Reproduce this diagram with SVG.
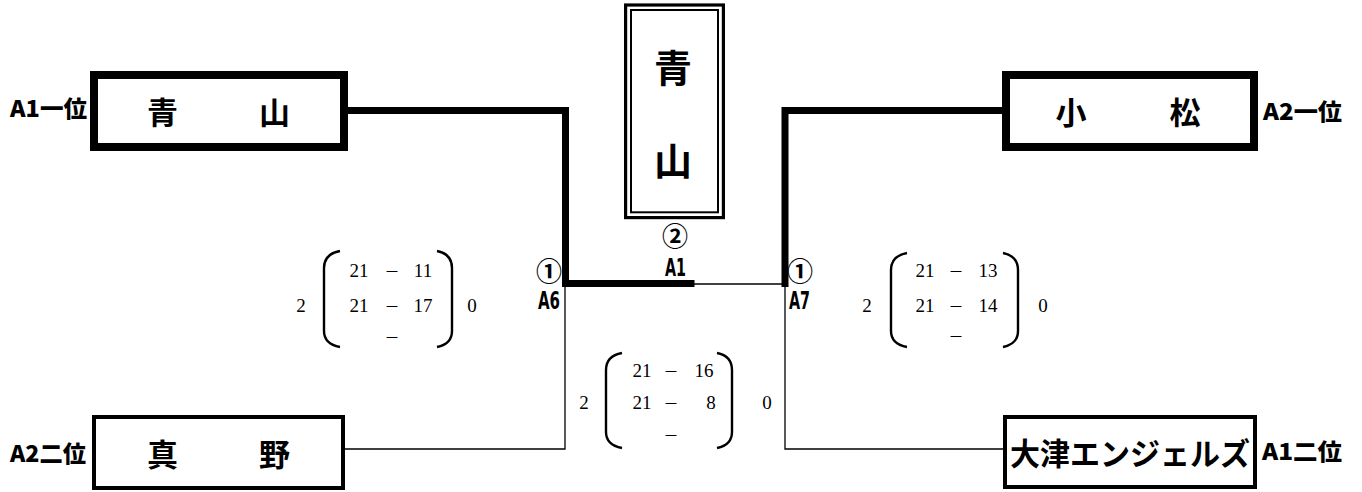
<svg xmlns="http://www.w3.org/2000/svg" width="1362" height="492" viewBox="0 0 1362 492">
<style>
.bg{fill:#fff}
.thick{fill:none;stroke:#000;stroke-width:7;stroke-linecap:square}
.thin{fill:none;stroke:#000;stroke-width:1.3}
.boxT{fill:#fff;stroke:#000;stroke-width:8}
.boxN{fill:#fff;stroke:#000;stroke-width:4}
.name{font-family:"Noto Sans CJK JP","Noto Sans CJK SC",sans-serif;font-weight:bold;font-size:31px;fill:#000;text-anchor:middle;dominant-baseline:central}
.rank{font-family:"Noto Sans CJK JP","Noto Sans CJK SC",sans-serif;font-weight:900;font-size:23px;fill:#000;dominant-baseline:central}
.code{font-family:"Liberation Sans Narrow","DejaVu Sans Condensed",sans-serif;font-weight:bold;font-size:24px;fill:#000;dominant-baseline:central}
.circ{font-family:"Noto Sans CJK JP","DejaVu Sans",sans-serif;font-weight:bold;font-size:26px;fill:#000;text-anchor:middle;dominant-baseline:central}
.sc{font-family:"Liberation Serif","Noto Sans CJK JP",serif;font-size:19px;fill:#000;text-anchor:middle}
.dash{font-family:"Noto Sans CJK JP",sans-serif;font-size:15px;fill:#000;text-anchor:middle}
.par{fill:none;stroke:#000;stroke-width:2.4}
</style>
<rect class="bg" x="0" y="0" width="1362" height="492"/>

<g id="connectors">
  <path class="thick" d="M348,110.5 H565.5 V283.5 H691"/>
  <path class="thick" d="M1002,110.5 H785 V283.5"/>
  <path class="thin" d="M691,284 H785"/>
  <path class="thin" d="M565,284 V449 H345"/>
  <path class="thin" d="M785,284 V449 H1003"/>
</g>

<g id="node-aoyama-a1">
  <rect class="boxT" x="94" y="75" width="250" height="72"/>
  <text class="name" x="218.5" y="110" textLength="143" lengthAdjust="spacing">青　　山</text>
  <text class="rank" x="10" y="107" textLength="77" lengthAdjust="spacingAndGlyphs">A1一位</text>
</g>

<g id="node-komatsu-a2">
  <rect class="boxT" x="1006" y="75" width="248" height="72"/>
  <text class="name" x="1128" y="110" textLength="145" lengthAdjust="spacing">小　　松</text>
  <text class="rank" x="1263" y="110" textLength="79" lengthAdjust="spacingAndGlyphs">A2一位</text>
</g>

<g id="node-mano-a2">
  <rect class="boxN" x="94" y="417" width="249" height="71"/>
  <text class="name" x="218.5" y="452" textLength="143" lengthAdjust="spacing">真　　野</text>
  <text class="rank" x="10" y="452" textLength="76" lengthAdjust="spacingAndGlyphs">A2二位</text>
</g>

<g id="node-otsu-a1">
  <rect class="boxN" x="1005" y="417" width="250" height="70"/>
  <text class="name" x="1130" y="451" textLength="240" lengthAdjust="spacingAndGlyphs">大津エンジェルズ</text>
  <text class="rank" x="1262" y="450" textLength="80" lengthAdjust="spacingAndGlyphs">A1二位</text>
</g>

<g id="node-winner">
  <rect fill="#fff" stroke="#000" stroke-width="3.2" x="625.6" y="5" width="97.8" height="212.6"/>
  <rect fill="none" stroke="#000" stroke-width="2" x="631" y="10" width="87" height="202.3"/>
  <text class="name" x="673" y="65" style="font-size:38px">青</text>
  <text class="name" x="673" y="158" style="font-size:38px">山</text>
</g>

<g id="match-labels">
  <text class="circ" x="675" y="234">②</text>
  <text class="code" x="665" y="268" textLength="21" lengthAdjust="spacingAndGlyphs">A1</text>
  <text class="circ" x="549" y="269">①</text>
  <text class="code" x="538" y="301" textLength="22" lengthAdjust="spacingAndGlyphs">A6</text>
  <text class="circ" x="800" y="269">①</text>
  <text class="code" x="789" y="301" textLength="21" lengthAdjust="spacingAndGlyphs">A7</text>
</g>

<g id="score-a6">
  <path class="par" d="M340,251 Q324,254 324,268 V331 Q324,344 340,347"/>
  <path class="par" d="M437,251 Q452,254 452,268 V331 Q452,344 437,347"/>
  <text class="sc" x="301" y="312">2</text>
  <text class="sc" x="472" y="312">0</text>
  <text class="sc" x="359" y="277">21</text>
  <text class="dash" x="392" y="277">－</text>
  <text class="sc" x="423" y="277">11</text>
  <text class="sc" x="359" y="312">21</text>
  <text class="dash" x="392" y="312">－</text>
  <text class="sc" x="423" y="312">17</text>
  <text class="dash" x="392" y="343">－</text>
</g>

<g id="score-a7">
  <path class="par" d="M907,253 Q891,256 891,270 V331 Q891,344 907,347"/>
  <path class="par" d="M1003,253 Q1018,256 1018,270 V331 Q1018,344 1003,347"/>
  <text class="sc" x="867" y="312">2</text>
  <text class="sc" x="1043" y="312">0</text>
  <text class="sc" x="925" y="277">21</text>
  <text class="dash" x="956" y="277">－</text>
  <text class="sc" x="988" y="277">13</text>
  <text class="sc" x="925" y="312">21</text>
  <text class="dash" x="956" y="312">－</text>
  <text class="sc" x="988" y="312">14</text>
  <text class="dash" x="956" y="342">－</text>
</g>

<g id="score-a1">
  <path class="par" d="M622,353 Q606,356 606,370 V432 Q606,445 622,448"/>
  <path class="par" d="M717,353 Q732,356 732,370 V432 Q732,445 717,448"/>
  <text class="sc" x="584" y="409">2</text>
  <text class="sc" x="767" y="409">0</text>
  <text class="sc" x="642" y="377">21</text>
  <text class="dash" x="671" y="377">－</text>
  <text class="sc" x="704" y="377">16</text>
  <text class="sc" x="642" y="409">21</text>
  <text class="dash" x="671" y="409">－</text>
  <text class="sc" x="711" y="409">8</text>
  <text class="dash" x="671" y="441">－</text>
</g>
</svg>
